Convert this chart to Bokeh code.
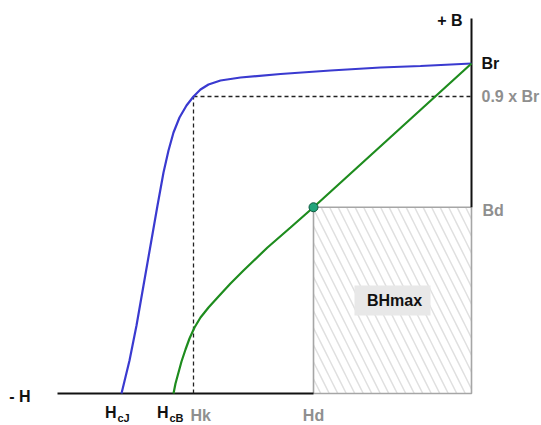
from bokeh.plotting import figure
from bokeh.models import Range1d
from bokeh.embed import file_html
from bokeh.resources import INLINE
from bokeh.core.properties import value

# Demagnetisation curves of a permanent magnet (second quadrant)
# H in kOe (negative = demagnetising field), B / J in kG

Br = 13.2          # remanence
HcJ = -17.5        # intrinsic coercivity
HcB = -14.9        # normal coercivity
Hk = -13.9         # knee field, where J falls to 0.9 x Br
Hd = -7.9          # working point field
Bd = 7.45          # working point induction

# intrinsic curve J(H)
j_H = [0, -2.55, -4.55, -7.05, -9.55, -11.55, -12.55, -13.15, -13.55, Hk,
       -14.25, -14.6, -14.9, -15.15, -15.4, -15.7, -16.05, -16.4, -16.75,
       -17.1, HcJ]
j_B = [Br, 13.1, 13.04, 12.92, 12.78, 12.64, 12.52, 12.36, 12.16, 0.9 * Br,
       11.52, 11.04, 10.44, 9.72, 8.84, 7.52, 5.92, 4.32, 2.72, 1.32, 0]

# normal curve B(H)
b_H = [0, Hd, -9.05, -10.2, -11.4, -12.05, -12.65, -13.15, -13.55, -13.85,
       -14.1, -14.3, -14.5, -14.65, -14.8, HcB]
b_B = [Br, Bd, 6.64, 5.84, 4.92, 4.4, 3.88, 3.44, 3.04, 2.64,
       2.2, 1.76, 1.28, 0.84, 0.4, 0]

H_axis_end = -20.7
B_axis_end = 15.0

FONT = value("Liberation Sans")
BLACK = "#111111"
GREY = "#8f8f8f"

p = figure(width=541, height=425, output_backend="svg", toolbar_location=None,
           x_range=Range1d(-23.55, 3.5), y_range=Range1d(-1.28, 15.72),
           min_border=0, min_border_left=0, min_border_right=0,
           min_border_top=0, min_border_bottom=0)
p.axis.visible = False
p.grid.visible = False
p.outline_line_color = None
p.background_fill_color = "white"
p.border_fill_color = "white"

# BHmax rectangle under the working point
p.quad(left=[Hd], right=[0], bottom=[0], top=[Bd], fill_color="white",
       line_color="#a6a6a6", line_width=1.6,
       hatch_pattern="\\", hatch_color="#e0e0e0", hatch_weight=1.5,
       hatch_scale=17)
p.rect(x=[Hd / 2], y=[Bd / 2], width=76, height=30, width_units="screen",
       height_units="screen", fill_color="#e8e8e8", line_color=None)
p.text(x=[Hd / 2], y=[Bd / 2], text=["BHmax"], text_align="center",
       text_baseline="middle", text_font=FONT, text_font_style="bold",
       text_font_size="16px", text_color=BLACK, x_offset=2)

# axes
p.segment(x0=[H_axis_end], y0=[0], x1=[Hd], y1=[0], line_color=BLACK,
          line_width=2)
p.segment(x0=[0], y0=[Bd], x1=[0], y1=[B_axis_end], line_color=BLACK,
          line_width=2)

# 0.9 x Br and Hk guides
p.segment(x0=[Hk], y0=[0.9 * Br], x1=[0], y1=[0.9 * Br], line_color="#222222",
          line_width=1.3, line_dash="4 3")
p.segment(x0=[Hk], y0=[0], x1=[Hk], y1=[0.9 * Br], line_color="#222222",
          line_width=1.3, line_dash="4 3")

# curves
p.line(j_H, j_B, line_color="#3a3ad0", line_width=2.2)
p.line(b_H, b_B, line_color="#1e8c1e", line_width=2.2)
p.scatter([Hd], [Bd], size=9, fill_color="#20a47a", line_color="#0f5a40",
          line_width=1)

def label(x, y, txt, color=BLACK, size="16px", align="left",
          baseline="middle", dx=0, dy=0):
    p.text(x=[x], y=[y], text=[txt], text_align=align, text_baseline=baseline,
           text_font=FONT, text_font_style="bold", text_font_size=size,
           text_color=color, x_offset=dx, y_offset=dy)

# B-axis labels
label(0, B_axis_end, "+ B", align="right", dx=-9, dy=2)
label(0, Br, "Br", dx=10, dy=0)
label(0, 0.9 * Br, "0.9 x Br", color=GREY, dx=10)
label(0, Bd, "Bd", color=GREY, dx=11, dy=3)

# H-axis labels
label(H_axis_end, 0, "- H", align="right", dx=-27, dy=3)
label(HcJ, 0, "H", align="right", dx=-5, dy=19)
label(HcJ, 0, "cJ", size="11px", dx=-4, dy=24)
label(HcB, 0, "H", align="right", dx=-5, dy=19)
label(HcB, 0, "cB", size="11px", dx=-4, dy=24)
label(Hk, 0, "Hk", color=GREY, dx=-3, dy=22)
label(Hd, 0, "Hd", color=GREY, align="center", dx=0, dy=22)

open("out.html", "w").write(file_html(p, INLINE))
